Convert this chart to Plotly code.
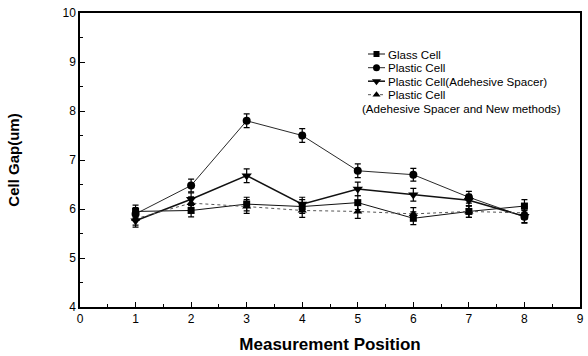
import plotly.graph_objects as go

positions = [1, 2, 3, 4, 5, 6, 7, 8]
glass_cell = [5.95, 5.97, 6.10, 6.05, 6.13, 5.81, 5.95, 6.06]
plastic_cell = [5.90, 6.48, 7.80, 7.50, 6.78, 6.70, 6.24, 5.84]
plastic_adhesive = [5.76, 6.20, 6.68, 6.10, 6.41, 6.29, 6.18, 5.85]
plastic_new = [5.80, 6.12, 6.05, 5.97, 5.95, 5.90, 5.95, 5.92]
err = [0.13, 0.13, 0.14, 0.14, 0.14, 0.13, 0.12, 0.13]

series_names = ["Glass Cell", "Plastic Cell", "Plastic Cell(Adehesive Spacer)", "Plastic Cell"]
legend_extra = "(Adehesive Spacer and New methods)"

styles = [
    dict(symbol="square", size=7, width=1.0, dash="solid", color="#111"),
    dict(symbol="circle", size=8, width=0.9, dash="solid", color="#111"),
    dict(symbol="triangle-down", size=9, width=1.5, dash="solid", color="#111"),
    dict(symbol="triangle-up", size=8, width=1.0, dash="dot", color="#555"),
]
data = [glass_cell, plastic_cell, plastic_adhesive, plastic_new]

FONT = "Liberation Sans, Arial"
W, H = 588, 356

fig = go.Figure()
for vals, st in zip(data, styles):
    fig.add_trace(go.Scatter(
        x=positions, y=vals, mode="lines+markers",
        line=dict(color=st["color"], width=st["width"], dash=st["dash"]),
        marker=dict(symbol=st["symbol"], size=st["size"], color="#000"),
        error_y=dict(type="data", array=err, color="#000", thickness=1.2, width=3),
        showlegend=False,
    ))

# plot area in page pixels
L, R, T, B = 80, 580, 13, 307
def fx(px):
    return (px - L) / (R - L)
def fy(py):
    return (B - py) / (B - T)

rows = [54, 67.7, 81.2, 94.7]
for name, st, ry in zip(series_names, styles, rows):
    fig.add_trace(go.Scatter(
        x=[fx(368), fx(376.5), fx(385)], y=[fy(ry)] * 3,
        xaxis="x2", yaxis="y2", mode="lines",
        line=dict(color=st["color"], width=st["width"], dash=st["dash"]),
        showlegend=False, hoverinfo="skip",
    ))
    fig.add_trace(go.Scatter(
        x=[fx(376.5)], y=[fy(ry)], xaxis="x2", yaxis="y2", mode="markers",
        marker=dict(symbol=st["symbol"], size=st["size"] - 1, color="#000"),
        showlegend=False, hoverinfo="skip",
    ))
    fig.add_annotation(x=fx(386), y=fy(ry), xref="x2", yref="y2", text=name,
                       showarrow=False, xanchor="left", yanchor="middle",
                       font=dict(size=11.6, color="#000", family=FONT))
fig.add_annotation(x=fx(360), y=fy(108.3), xref="x2", yref="y2", text=legend_extra,
                   showarrow=False, xanchor="left", yanchor="middle",
                   font=dict(size=11.6, color="#000", family=FONT))

fig.update_layout(
    width=W, height=H,
    margin=dict(l=L, r=W - R, t=T, b=H - B, autoexpand=False),
    paper_bgcolor="white", plot_bgcolor="white",
    font=dict(family=FONT, color="#000", size=12),
    xaxis=dict(range=[0, 9], tickmode="linear", tick0=0, dtick=1,
               ticks="inside", ticklen=5, tickwidth=1, tickcolor="#000",
               minor=dict(ticks="inside", ticklen=3, dtick=0.5, tickcolor="#000"),
               showline=True, linecolor="#000", linewidth=1.5, mirror=True,
               showgrid=False, zeroline=False, automargin=False,
               ticklabeloverflow="allow",
               title=dict(text="<b>Measurement Position</b>", font=dict(size=17), standoff=13)),
    yaxis=dict(range=[4, 10], tickmode="linear", tick0=4, dtick=1,
               ticks="inside", ticklen=5, tickwidth=1, tickcolor="#000",
               minor=dict(ticks="inside", ticklen=3, dtick=0.5, tickcolor="#000"),
               showline=True, linecolor="#000", linewidth=1.5, mirror=True,
               showgrid=False, zeroline=False, automargin=False,
               ticklabeloverflow="allow",
               title=dict(text="<b>Cell Gap(um)</b>", font=dict(size=15), standoff=39)),
    xaxis2=dict(range=[0, 1], overlaying="x", visible=False, fixedrange=True),
    yaxis2=dict(range=[0, 1], overlaying="y", visible=False, fixedrange=True),
)

fig.write_html("out.html", config={"displayModeBar": False},
               post_script="document.body.style.margin='0px';")
